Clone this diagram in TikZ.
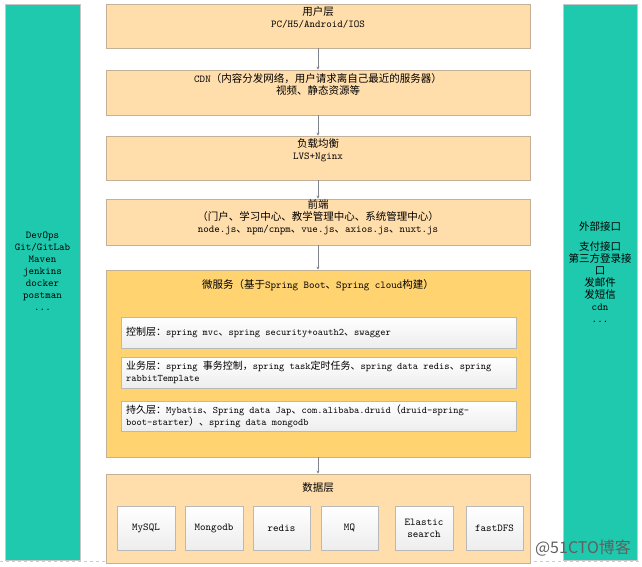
\documentclass[tikz,border=0pt]{standalone}
\usepackage{fontspec}
\setmainfont{Noto Sans CJK SC}
\usetikzlibrary{positioning,shadows,arrows.meta}

\definecolor{barteal}{RGB}{30,201,173}
\definecolor{layerfill}{RGB}{255,222,172}
\definecolor{layerline}{RGB}{196,176,150}
\definecolor{msfill}{RGB}{255,211,112}
\definecolor{linkgray}{RGB}{128,132,140}
\newcommand{\lat}[1]{{\ttfamily #1}}

\tikzset{
  layer/.style={draw=layerline, fill=layerfill, line width=0.8pt, minimum width=424pt, inner sep=0pt},
  sidebar/.style={draw=gray!45, fill=barteal, minimum width=75pt, minimum height=556pt, inner sep=0pt},
  title/.style={align=center, inner sep=0pt, font=\fontsize{10.5}{12}\selectfont},
  part/.style={draw=gray!55, top color=white, bottom color=gray!14, inner sep=0pt,
    drop shadow={shadow xshift=1pt, shadow yshift=-1pt, opacity=0.35}},
  parttext/.style={align=left, inner sep=0pt, font=\fontsize{10}{12}\selectfont},
  link/.style={draw=linkgray, line width=0.8pt, -{Stealth[length=3pt,width=3pt]}},
}

\begin{document}
\begin{tikzpicture}[x=1pt,y=-1pt]
            \useasboundingbox (0,0) rectangle (642,567);
            \draw[gray!40, dashed] (0,561) -- (642,561);

            % Draw the two side bars
            \node[sidebar] (devops) at (42.5,282) {};
            \node[title, font=\fontsize{10.5}{12}\ttfamily] (devopstext) at (42.5,271)
                {DevOps\\Git/GitLab\\Maven\\jenkins\\docker\\postman\\...};
            \node[sidebar, minimum width=74pt] (extern) at (600,282) {};
            \node[title] (externtext) at (600,272.5)
                {外部接口\\[8pt]支付接口\\第三方登录接\\口\\发邮件\\发短信\\\lat{cdn}\\\lat{...}};

            % Draw the layers
            \node[layer, minimum height=44pt] (user) at (318,26) {};
            \node[title, below=3pt of user.north] (usertext) {用户层\\\lat{PC/H5/Android/IOS}};

            \node[layer, minimum height=45pt] (cdn) at (318,92.5) {};
            \node[title, below=4pt of cdn.north] (cdntext)
                {\lat{CDN}（内容分发网络，用户请求离自己最近的服务器）\\视频、静态资源等};

            \node[layer, minimum height=44pt] (lb) at (318,158) {};
            \node[title, below=3pt of lb.north] (lbtext) {负载均衡\\\lat{LVS+Nginx}};

            \node[layer, minimum height=46pt] (front) at (318,222) {};
            \node[title, below=1pt of front.north] (fronttext)
                {前端\\（门户、学习中心、教学管理中心、系统管理中心）\\
                 \lat{node.js}、\lat{npm/cnpm}、\lat{vue.js}、\lat{axios.js}、\lat{nuxt.js}};

            % Draw the micro services and its three parts
            \node[layer, fill=msfill, minimum height=187pt] (micro) at (318,363.5) {};
            \node[title, below=10pt of micro.north] (microtext)
                {微服务（基于\lat{Spring Boot}、\lat{Spring cloud}构建）};

            \node[part, minimum width=395pt, minimum height=31pt] (ctrl) at (318.5,332.5) {};
            \node[parttext, right=5pt of ctrl.west] (ctrltext)
                {控制层：\lat{spring mvc}、\lat{spring security+oauth2}、\lat{swagger}};

            \node[part, minimum width=395pt, minimum height=31pt] (biz) at (318.5,372.5) {};
            \node[parttext, right=5pt of biz.west] (biztext)
                {业务层：\lat{spring }事务控制，\lat{spring task}定时任务、\lat{spring data redis}、\lat{spring}\\
                 \lat{rabbitTemplate}};

            \node[part, minimum width=395pt, minimum height=30pt] (dao) at (318.5,416) {};
            \node[parttext, right=5pt of dao.west] (daotext)
                {持久层：\lat{Mybatis}、\lat{Spring data Jap}、\lat{com.alibaba.druid}（\lat{druid-spring-}\\
                 \lat{boot-starter}）、\lat{spring data mongodb}};

            % Draw the data layer and its stores
            \node[layer, minimum height=89pt] (data) at (318,518.5) {};
            \node[title, below=9pt of data.north] (datatext) {数据层};

            \node[part, title, minimum width=58pt, minimum height=44pt] (mysql) at (146,528) {\lat{MySQL}};
            \node[part, title, minimum width=58pt, minimum height=44pt] (mongo) at (214,528) {\lat{Mongodb}};
            \node[part, title, minimum width=57pt, minimum height=44pt] (redis) at (281.5,528) {\lat{redis}};
            \node[part, title, minimum width=57pt, minimum height=44pt] (mq) at (349.5,528) {\lat{MQ}};
            \node[part, title, minimum width=58pt, minimum height=44pt] (es) at (424,528) {\lat{Elastic}\\\lat{search}};
            \node[part, title, minimum width=57pt, minimum height=44pt] (dfs) at (494.5,528) {\lat{fastDFS}};

            % Draw the arrows
            \draw[link] (user) -- (cdn);
            \draw[link] (cdn) -- (lb);
            \draw[link] (lb) -- (front);
            \draw[link] (front) -- (micro);
            \draw[link] (micro) -- (data);

            \node[font=\fontsize{16}{16}\selectfont, text=gray!75!black, inner sep=0pt] (mark) at (583,548) {@51CTO博客};
\end{tikzpicture}
\end{document}
